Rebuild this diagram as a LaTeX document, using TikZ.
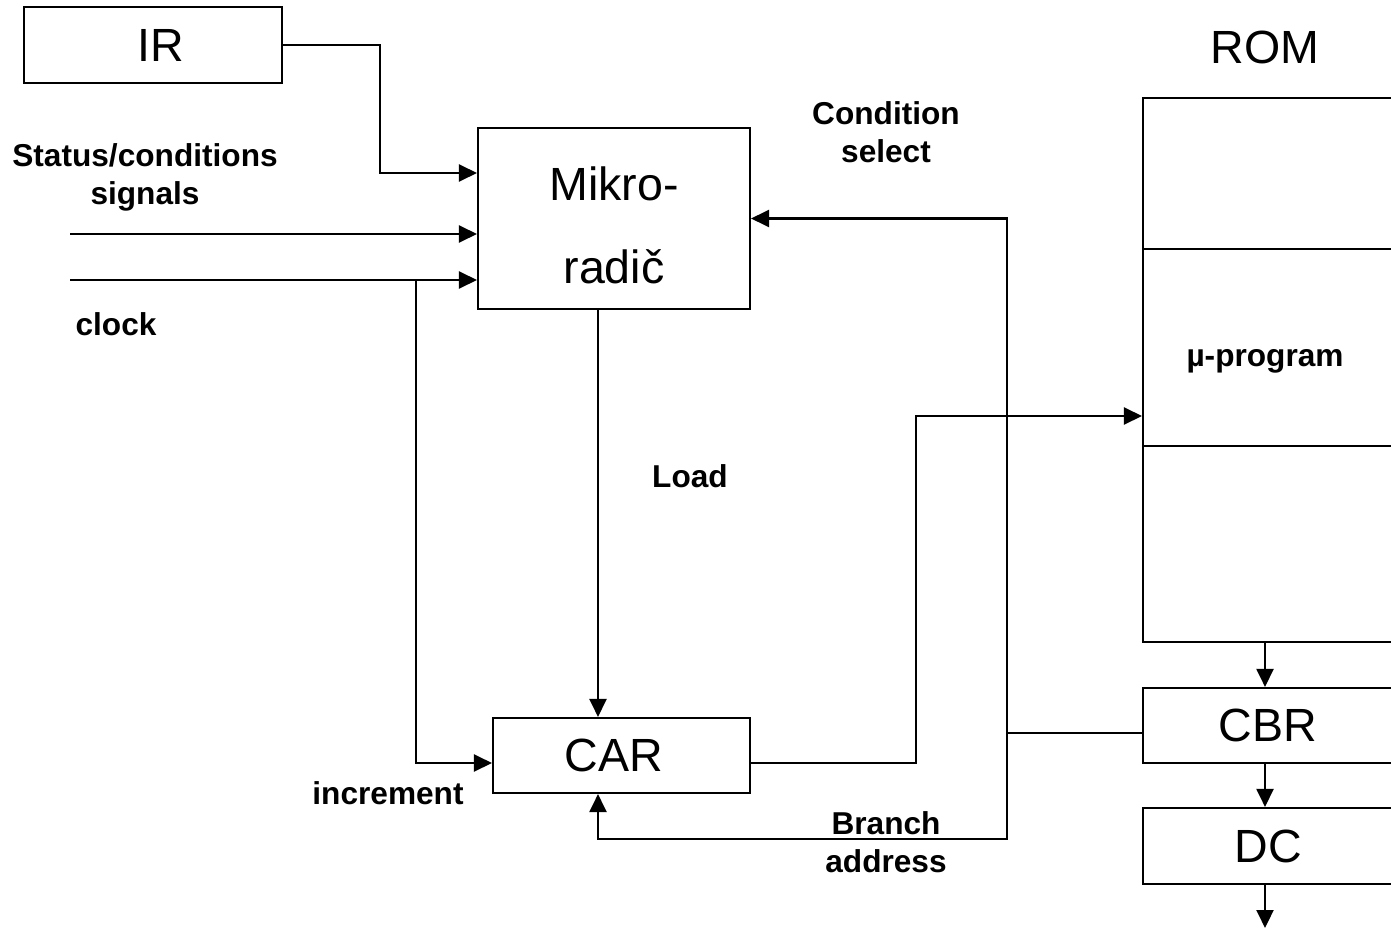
\documentclass[tikz,border=0pt]{standalone}
\usepackage{fontspec}
\setmainfont{Liberation Sans}
\usetikzlibrary{arrows.meta}

\begin{document}
\begin{tikzpicture}[
    x=0.02cm, y=-0.02cm,
    box/.style={
        draw,
        line width=1.2pt,
        inner sep=0pt,
        font=\fontsize{26.5}{32}\selectfont,
        align=center
    },
    lbl/.style={
        font=\bfseries\fontsize{18}{21.6}\selectfont,
        align=center
    },
    arrow/.style={
        -{Triangle[length=3.6mm,width=3.4mm]},
        line width=1.2pt
    }
]
\useasboundingbox (0,0) rectangle (1391,929);

\node[box, minimum width=5.16cm, minimum height=1.52cm] (ir) at (153,45) {\hspace*{0.3cm}IR};

\node[box, minimum width=5.44cm, minimum height=3.62cm,
      font=\fontsize{26.5}{47}\selectfont] (mikro) at (614,218.5) {\rule{0pt}{0.95cm}Mikro-\\radič};

\node[box, minimum width=5.14cm, minimum height=1.5cm] (car) at (621.5,755.5) {CAR\hspace*{0.3cm}};

\node[box, minimum width=5cm, minimum height=10.88cm] (rom) at (1268,370) {};

\node[box, minimum width=5cm, minimum height=1.5cm] (cbr) at (1268,725.5) {CBR};

\node[box, minimum width=5cm, minimum height=1.52cm] (dc) at (1268,846) {DC};

% ROM sections
\draw[line width=1.2pt] (rom.west |- 0,249) -- (rom.east |- 0,249);
\draw[line width=1.2pt] (rom.west |- 0,446) -- (rom.east |- 0,446);

% labels
\node[font=\fontsize{26.5}{32}\selectfont] (romlbl) at (1265,47) {ROM};
\node[lbl] (prog) at (1265,361) {µ-program};
\node[lbl] (status) at (145,177.5) {Status/conditions\\signals};
\node[lbl] (clocklbl) at (116,324) {clock};
\node[lbl] (load) at (690,476) {Load};
\node[lbl] (condsel) at (886,132) {Condition\\select};
\node[lbl] (incr) at (388,793) {increment};
\node[lbl] (branch) at (886,842) {Branch\\address};

% free ends
\coordinate (statin) at (70,234);
\coordinate (clkin) at (70,280);
\coordinate (clkbr) at (416,280);
\coordinate (tap) at (1007,733);
\coordinate (dcout) at (1265,928);

% connectors
\draw[arrow] (ir.east) -- (380,45) |- (mikro.west |- 0,173);
\draw[arrow] (statin) -- (mikro.west |- statin);
\draw[arrow] (clkin) -- (mikro.west |- clkin);
\draw[arrow] (clkbr) |- (car.west |- 0,763);
\draw[arrow] (mikro.south -| 598,0) -- (car.north -| 598,0);
\draw[arrow] (car.east |- 0,763) -- (916,763) |- (rom.west |- 0,416);
\draw[line width=1.2pt] (cbr.west |- tap) -- (tap);
\draw[arrow] (tap) |- (mikro.east);
\draw[arrow] (tap) |- (598,839) -- (car.south -| 598,0);
\draw[arrow] (rom.south -| 1265,0) -- (cbr.north -| 1265,0);
\draw[arrow] (cbr.south -| 1265,0) -- (dc.north -| 1265,0);
\draw[arrow] (dc.south -| 1265,0) -- (dcout);

\end{tikzpicture}
\end{document}
